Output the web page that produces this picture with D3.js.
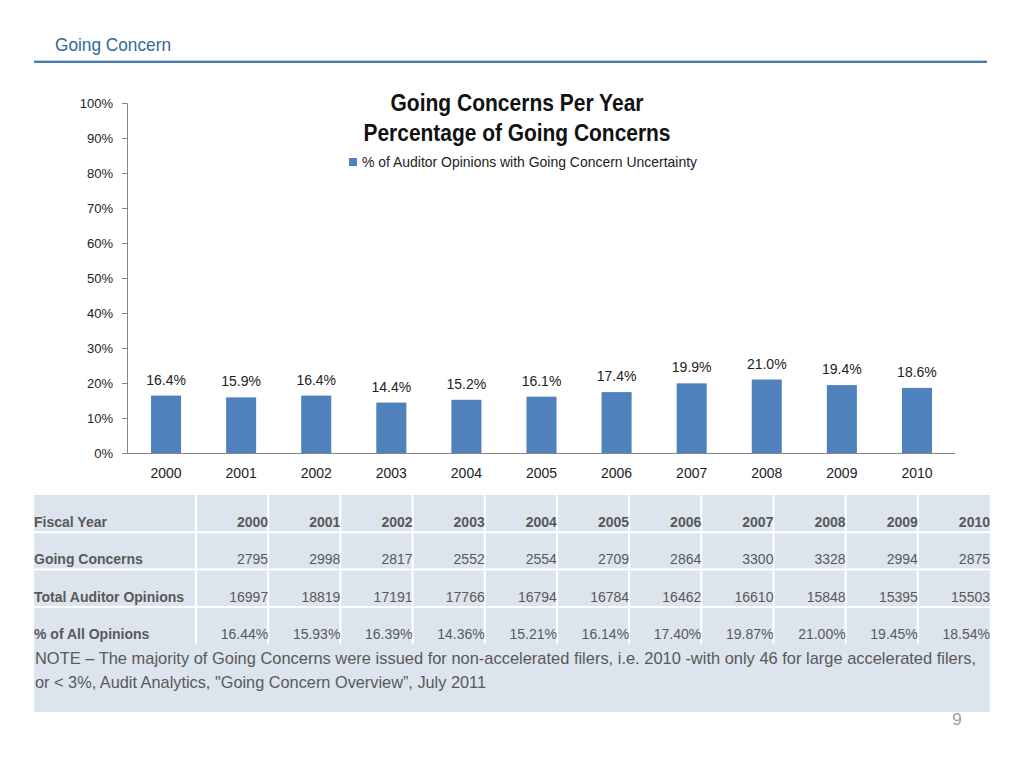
<!DOCTYPE html>
<html><head><meta charset="utf-8">
<script src="https://cdn.jsdelivr.net/npm/d3@7"></script>
<style>body{margin:0;background:#fff}svg{display:block}</style>
</head><body>
<svg id="c" width="1024" height="768"></svg>
<script>
const years = ["2000","2001","2002","2003","2004","2005","2006","2007","2008","2009","2010"];
const chartPct = [16.4,15.9,16.4,14.4,15.2,16.1,17.4,19.9,21.0,19.4,18.6];
const yTicks = [0,10,20,30,40,50,60,70,80,90,100];
const goingConcerns = [2795,2998,2817,2552,2554,2709,2864,3300,3328,2994,2875];
const totalOpinions = [16997,18819,17191,17766,16794,16784,16462,16610,15848,15395,15503];
const pctAll = ["16.44%","15.93%","16.39%","14.36%","15.21%","16.14%","17.40%","19.87%","21.00%","19.45%","18.54%"];
const rowLabels = ["Fiscal Year","Going Concerns","Total Auditor Opinions","% of All Opinions"];
const titleLines = ["Going Concerns Per Year","Percentage of Going Concerns"];
const legendLabel = "% of Auditor Opinions with Going Concern Uncertainty";
const noteLines = ["NOTE \u2013 The majority of Going Concerns were issued for non-accelerated filers, i.e. 2010 -with only 46  for large accelerated filers,",
  "or < 3%, Audit Analytics, \"Going Concern Overview\u201d, July 2011"];

const svg = d3.select("#c");
const sans = "'Liberation Sans',Arial,sans-serif";
const blue = "#4f81bd";

// condensed text helper (no narrow font installed): fit to measured width
function narrowText(sel, width){
  sel.attr("textLength",width).attr("lengthAdjust","spacingAndGlyphs");
  return sel;
}

// header
narrowText(svg.append("text").attr("x",55).attr("y",51).text("Going Concern")
  .style("font-family",sans).style("font-size","19px").attr("fill","#2f6a9c"),116);
svg.append("line").attr("x1",34).attr("x2",987).attr("y1",62).attr("y2",62).attr("stroke","#4a7eb0").attr("stroke-width",2);
svg.append("line").attr("x1",34).attr("x2",987).attr("y1",60.5).attr("y2",60.5).attr("stroke","#b8cde2").attr("stroke-width",1);

// chart
const x = d3.scaleBand().domain(years).range([128.5,954.5]).paddingInner(0.6).paddingOuter(0.3);
const y = d3.scaleLinear().domain([0,100]).range([453,103]);

const ya = svg.append("g").attr("transform","translate(127,0)")
  .call(d3.axisLeft(y).tickValues(yTicks).tickFormat(d=>d+"%").tickSize(5).tickPadding(9));
ya.select(".domain").attr("stroke","#868686").attr("d","M-5,103.5H0.5V453.5");
ya.selectAll(".tick line").attr("stroke","#868686");
ya.selectAll("text").style("font-family",sans).style("font-size","13px").attr("fill","#222");

const xa = svg.append("g").attr("transform","translate(0,453)")
  .call(d3.axisBottom(x).tickSize(0).tickPadding(15));
xa.select(".domain").attr("stroke","#868686").attr("d","M127,0.5H955");
xa.selectAll("text").style("font-family",sans).style("font-size","14px").attr("fill","#222");

svg.append("g").selectAll("rect").data(years).join("rect")
  .attr("x",d=>x(d)).attr("width",x.bandwidth())
  .attr("y",(d,i)=>y(chartPct[i])).attr("height",(d,i)=>y(0)-y(chartPct[i]))
  .attr("fill",blue);

svg.append("g").selectAll("text").data(years).join("text")
  .attr("x",d=>x(d)+x.bandwidth()/2).attr("y",(d,i)=>y(chartPct[i])-11)
  .attr("text-anchor","middle").text((d,i)=>chartPct[i].toFixed(1)+"%")
  .style("font-family",sans).style("font-size","14px").attr("fill","#222");

// title
const titleW = [253,307];
svg.append("g").selectAll("text").data(titleLines).join("text")
  .attr("x",517).attr("y",(d,i)=>111+i*30).attr("text-anchor","middle").text(d=>d)
  .attr("textLength",(d,i)=>titleW[i]).attr("lengthAdjust","spacingAndGlyphs")
  .style("font-family",sans).style("font-weight","bold").style("font-size","23px").attr("fill","#111");
svg.append("rect").attr("x",349).attr("y",158).attr("width",8).attr("height",8).attr("fill",blue);
narrowText(svg.append("text").attr("x",362).attr("y",167).text(legendLabel)
  .style("font-family",sans).style("font-size","15px").attr("fill","#222"),335);

// table
const tTop = 495, rowH = 37.3, tLeft = 34, tRight = 990, labelW = 162;
const colX = d3.scaleBand().domain(years).range([tLeft+labelW, tRight]);
svg.append("rect").attr("x",tLeft).attr("y",tTop).attr("width",tRight-tLeft).attr("height",712-tTop).attr("fill","#dce4ee");
const tbl = svg.append("g");
[1,2,3].forEach(i=>tbl.append("line").attr("x1",tLeft).attr("x2",tRight)
  .attr("y1",tTop+i*rowH).attr("y2",tTop+i*rowH).attr("stroke","#fff").attr("stroke-width",2));
years.forEach(yr=>tbl.append("line").attr("x1",colX(yr)).attr("x2",colX(yr))
  .attr("y1",tTop).attr("y2",tTop+4*rowH).attr("stroke","#fff").attr("stroke-width",2));
const rows = [years, goingConcerns, totalOpinions, pctAll];
rows.forEach((vals,r)=>{
  const by = tTop + r*rowH + 32;
  tbl.append("text").attr("x",tLeft).attr("y",by).text(rowLabels[r])
    .style("font-family",sans).style("font-weight","bold").style("font-size","14px").attr("fill","#595959");
  tbl.append("g").selectAll("text").data(vals).join("text")
    .attr("x",(d,i)=>colX(years[i])+colX.bandwidth()).attr("y",by).attr("text-anchor","end")
    .text(d=>d).style("font-family",sans).style("font-weight",r===0?"bold":"normal")
    .style("font-size","14px").attr("fill","#595959");
});
tbl.append("rect").attr("x",tLeft).attr("y",tTop+4*rowH+1).attr("width",tRight-tLeft).attr("height",712-(tTop+4*rowH+1)).attr("fill","#dce4ee");
const noteW = [941,451];
tbl.append("g").selectAll("text").data(noteLines).join("text")
  .attr("x",tLeft+1).attr("y",(d,i)=>664+i*24).text(d=>d)
  .attr("textLength",(d,i)=>noteW[i]).attr("lengthAdjust","spacingAndGlyphs")
  .style("font-family",sans).style("font-size","17px").attr("fill","#595959");

svg.append("text").attr("x",957).attr("y",725).attr("text-anchor","middle").text("9")
  .style("font-family",sans).style("font-size","17px").attr("fill","#a0a0a0");
</script>
</body></html>
